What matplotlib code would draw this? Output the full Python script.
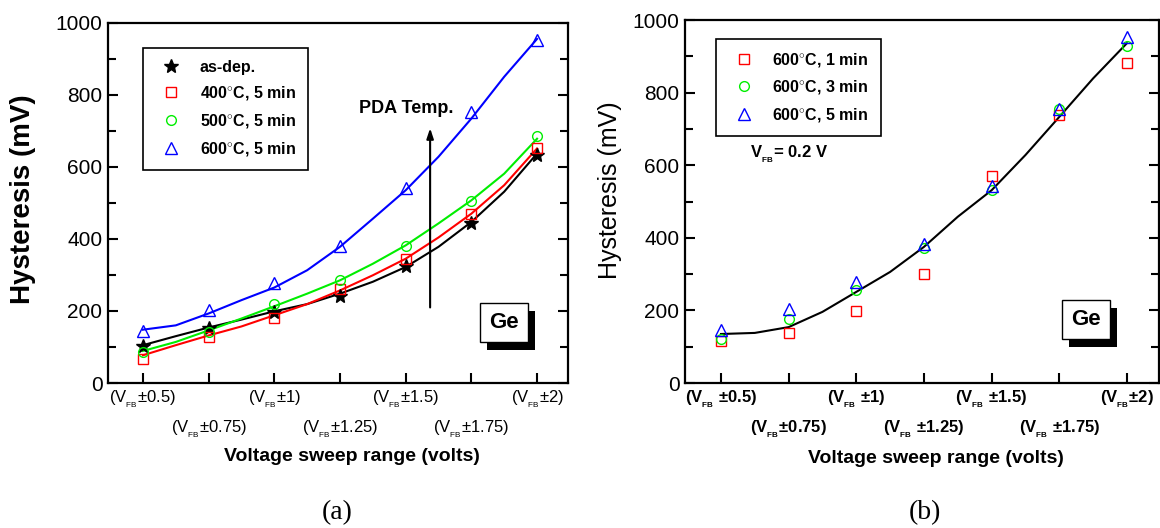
import numpy as np
import matplotlib
matplotlib.use('Agg')
import matplotlib.pyplot as plt
import matplotlib.patheffects as pe
from matplotlib.ticker import MultipleLocator

plt.rcParams['font.family'] = ['Liberation Sans', 'DejaVu Sans']
plt.rcParams['mathtext.fontset'] = 'custom'
plt.rcParams['mathtext.rm'] = 'Liberation Sans'
plt.rcParams['mathtext.bf'] = 'Liberation Sans:bold'

# sweep range (+/- volts around V_FB)
sweep = [0.5, 0.75, 1.0, 1.25, 1.5, 1.75, 2.0]
# finer points
sweep_fine = [0.5, 0.625, 0.75, 0.875, 1.0, 1.125, 1.25, 1.375, 1.5, 1.625, 1.75, 1.875, 2.0]

# (a) PDA temperature, 5 min
asdep = [104, 153, 197, 241, 325, 443, 634]
t400 = [68, 128, 181, 261, 343, 470, 653]
t500 = [86, 142, 218, 287, 381, 506, 686]
t600 = [144, 202, 278, 381, 542, 751, 953]

fit_asdep = [105, 130, 154, 176, 199, 219, 248, 281, 322, 378, 447, 531, 637]
fit_400 = [77, 105, 132, 157, 188, 219, 257, 299, 345, 404, 470, 549, 651]
fit_500 = [89, 114, 146, 179, 213, 248, 285, 331, 382, 443, 507, 581, 678]
fit_600 = [148, 160, 193, 230, 265, 313, 378, 456, 535, 628, 734, 850, 955]

# (b) 600C, PDA time
m1 = [116, 139, 199, 299, 571, 738, 882]
m3 = [120, 177, 257, 373, 531, 756, 929]
m5 = [145, 205, 278, 384, 543, 754, 952]
fit_b = [135, 138, 154, 196, 251, 306, 375, 458, 531, 628, 733, 839, 936]

SUB = r'$_{{}_{\mathregular{FB}}}$'
labels_a = ['(V' + SUB + '±0.5)', '(V' + SUB + '±0.75)', '(V' + SUB + '±1)',
            '(V' + SUB + '±1.25)', '(V' + SUB + '±1.5)', '(V' + SUB + '±1.75)',
            '(V' + SUB + '±2)']
labels_b = ['(V' + SUB + ' ±0.5)', '(V' + SUB + '±0.75)', '(V' + SUB + ' ±1)',
            '(V' + SUB + ' ±1.25)', '(V' + SUB + ' ±1.5)', '(V' + SUB + ' ±1.75)',
            '(V' + SUB + '±2)']

fig = plt.figure(figsize=(11.6, 5.28), dpi=100)
axa = fig.add_axes([0.0931, 0.2746, 0.3966, 0.6824])
axb = fig.add_axes([0.5905, 0.2746, 0.4085, 0.6875])


def style_axes(ax, labels, bold):
    ax.set_xlim(0.367, 2.118)
    ax.set_ylim(0, 1000)
    ax.yaxis.set_major_locator(MultipleLocator(200))
    ax.yaxis.set_minor_locator(MultipleLocator(100))
    ax.set_xticks(sweep)
    ax.set_xticklabels(labels, fontsize=12, fontweight='bold' if bold else 'normal')
    ax.tick_params(axis='both', which='both', direction='in', width=1.5)
    ax.tick_params(axis='y', which='major', length=7, labelsize=15, pad=4, right=True)
    ax.tick_params(axis='y', which='minor', length=6, right=True)
    ax.tick_params(axis='x', which='major', length=7, top=False)
    for i, t in enumerate(ax.xaxis.get_major_ticks()):
        t.set_pad(4 if i % 2 == 0 else 26)
    for s in ax.spines.values():
        s.set_linewidth(1.6)


def ge_box(ax, x, y):
    t = ax.text(x, y, 'Ge', fontsize=16, fontweight='bold', ha='center', va='center',
                bbox=dict(boxstyle='square,pad=0.4', fc='white', ec='black', lw=1))
    t.get_bbox_patch().set_path_effects([
        pe.SimplePatchShadow(offset=(5, -6), shadow_rgbFace='black', alpha=1),
        pe.Normal()])


# ---- (a)
axa.plot(sweep_fine, fit_asdep, '-', color='black', lw=1.5)
axa.plot(sweep_fine, fit_400, '-', color='#ff0000', lw=1.5)
axa.plot(sweep_fine, fit_500, '-', color='#00ee00', lw=1.5)
axa.plot(sweep_fine, fit_600, '-', color='#0000ff', lw=1.5)
axa.plot(sweep, asdep, '*', color='black', ms=10, ls='none', label='as-dep.')
axa.plot(sweep, t400, 's', mfc='none', mec='#ff0000', ms=7, mew=1, ls='none', label='400$^{\\circ}$C, 5 min')
axa.plot(sweep, t500, 'o', mfc='none', mec='#00ee00', ms=7, mew=1, ls='none', label='500$^{\\circ}$C, 5 min')
axa.plot(sweep, t600, '^', mfc='none', mec='#0000ff', ms=9, mew=1, ls='none', label='600$^{\\circ}$C, 5 min')
style_axes(axa, labels_a, False)
leg = axa.legend(loc='upper left', bbox_to_anchor=(0.076, 0.93), borderaxespad=0, fancybox=False,
                 edgecolor='black', framealpha=1, prop={'size': 11.5, 'weight': 'bold'},
                 handlelength=2.0, handletextpad=0.8, borderpad=0.75, labelspacing=0.6)
leg.get_frame().set_linewidth(1.2)
axa.annotate('', xy=(1.593, 715), xytext=(1.593, 202),
             arrowprops=dict(arrowstyle='-|>,head_width=0.2,head_length=0.6', color='black', lw=1.5))
axa.text(1.501, 763, 'PDA Temp.', fontsize=13, fontweight='bold', ha='center', va='center')
ge_box(axa, 1.874, 169)

# ---- (b)
axb.plot(sweep_fine, fit_b, '-', color='black', lw=1.5)
axb.plot(sweep, m1, 's', mfc='none', mec='#ff0000', ms=7, mew=1, ls='none', label='600$^{\\circ}$C, 1 min')
axb.plot(sweep, m3, 'o', mfc='none', mec='#00ee00', ms=7, mew=1, ls='none', label='600$^{\\circ}$C, 3 min')
axb.plot(sweep, m5, '^', mfc='none', mec='#0000ff', ms=9, mew=1, ls='none', label='600$^{\\circ}$C, 5 min')
style_axes(axb, labels_b, True)
leg = axb.legend(loc='upper left', bbox_to_anchor=(0.065, 0.948), borderaxespad=0, fancybox=False,
                 edgecolor='black', framealpha=1, prop={'size': 11.5, 'weight': 'bold'},
                 handlelength=2.0, handletextpad=0.8, borderpad=0.75, labelspacing=0.6)
leg.get_frame().set_linewidth(1.2)
axb.text(0.607, 631, 'V' + SUB + '= 0.2 V', fontsize=12, fontweight='bold', ha='left', va='center')
ge_box(axb, 1.849, 176)

# axis titles
fig.text(0.02, 0.623, 'Hysteresis (mV)', rotation=90, ha='center', va='center', fontsize=20, fontweight='bold')
fig.text(0.526, 0.64, 'Hysteresis (mV)', rotation=90, ha='center', va='center', fontsize=18)
fig.text(0.303, 0.1345, 'Voltage sweep range (volts)', ha='center', va='center', fontsize=14, fontweight='bold')
fig.text(0.807, 0.1325, 'Voltage sweep range (volts)', ha='center', va='center', fontsize=14, fontweight='bold')
fig.text(0.291, 0.03, '(a)', ha='center', va='center', fontsize=20, family='Liberation Serif')
fig.text(0.797, 0.03, '(b)', ha='center', va='center', fontsize=20, family='Liberation Serif')

fig.savefig('out.png', dpi=100)
